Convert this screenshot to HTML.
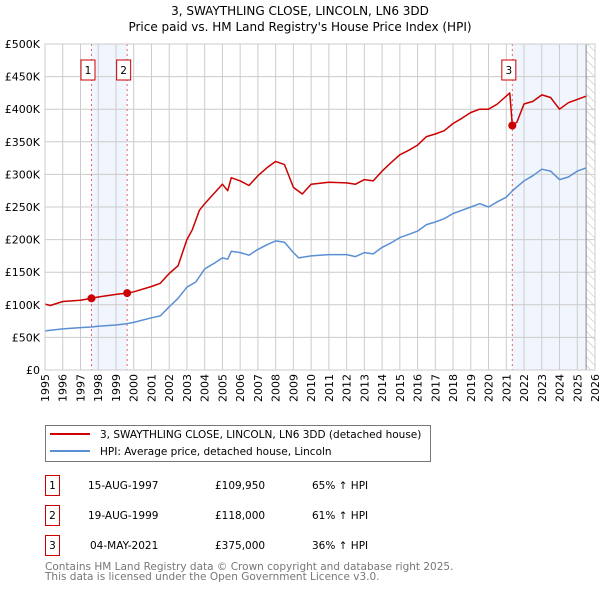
<!DOCTYPE html>
<html><head><meta charset="utf-8"><style>
body{margin:0;background:#fff;font-family:"DejaVu Sans","Liberation Sans",sans-serif;}
svg text{font-family:"DejaVu Sans","Liberation Sans",sans-serif;}
</style></head><body>
<svg id="c" width="600" height="590" xmlns="http://www.w3.org/2000/svg">
<defs><pattern id="hatch" width="6" height="6" patternUnits="userSpaceOnUse" patternTransform="rotate(-45)"><line x1="0" y1="0" x2="0" y2="6" stroke="#bbb" stroke-width="1"/></pattern></defs>
<text x="300" y="15" text-anchor="middle" font-size="12">3, SWAYTHLING CLOSE, LINCOLN, LN6 3DD</text>
<text x="300" y="31" text-anchor="middle" font-size="12">Price paid vs. HM Land Registry's House Price Index (HPI)</text>
<g id="plot"></g>
<g>
<rect x="45.5" y="425.5" width="385" height="36" fill="#fff" stroke="#777"/>
<line x1="50" y1="434" x2="90" y2="434" stroke="#cc0000" stroke-width="2"/>
<text x="100" y="438" font-size="10.5">3, SWAYTHLING CLOSE, LINCOLN, LN6 3DD (detached house)</text>
<line x1="50" y1="451" x2="90" y2="451" stroke="#5b8fd4" stroke-width="2"/>
<text x="100" y="455" font-size="10.5">HPI: Average price, detached house, Lincoln</text>
</g>
<g font-size="10.5">
<rect x="45.5" y="475.5" width="14" height="20" fill="#fff" stroke="#cc0000"/><text x="52.5" y="489" text-anchor="middle">1</text>
<text x="88" y="489">15-AUG-1997</text><text x="215" y="489">£109,950</text><text x="312" y="489">65% ↑ HPI</text>
<rect x="45.5" y="505.5" width="14" height="20" fill="#fff" stroke="#cc0000"/><text x="52.5" y="519" text-anchor="middle">2</text>
<text x="88" y="519">19-AUG-1999</text><text x="215" y="519">£118,000</text><text x="312" y="519">61% ↑ HPI</text>
<rect x="45.5" y="535.5" width="14" height="20" fill="#fff" stroke="#cc0000"/><text x="52.5" y="549" text-anchor="middle">3</text>
<text x="90" y="549">04-MAY-2021</text><text x="215" y="549">£375,000</text><text x="312" y="549">36% ↑ HPI</text>
</g>
<text x="45" y="570" font-size="10.5" fill="#777">Contains HM Land Registry data © Crown copyright and database right 2025.</text>
<text x="45" y="580" font-size="10.5" fill="#777">This data is licensed under the Open Government Licence v3.0.</text>
</svg>
<script>
const hpiYears=[1995,1996,1997,1997.6,1998,1999,1999.6,2000,2001,2001.5,2002,2002.5,2003,2003.5,2004,2004.5,2005,2005.3,2005.5,2006,2006.5,2007,2007.5,2008,2008.5,2009,2009.3,2010,2011,2012,2012.5,2013,2013.5,2014,2014.5,2015,2015.5,2016,2016.5,2017,2017.5,2018,2018.5,2019,2019.5,2020,2020.5,2021,2021.35,2022,2022.5,2023,2023.5,2024,2024.5,2025,2025.5];
const hpiValues=[60,63,65,66,67,69,71,73,80,83,97,110,127,135,155,163,172,170,182,180,176,185,192,198,196,180,172,175,177,177,174,180,178,188,195,203,208,213,223,227,232,240,245,250,255,250,258,265,275,290,298,308,305,292,296,305,310];
const propYears=[1995,1995.3,1996,1997,1997.62,1998,1999,1999.63,2000,2001,2001.5,2002,2002.5,2003,2003.3,2003.7,2004,2004.5,2005,2005.3,2005.5,2006,2006.5,2007,2007.5,2008,2008.5,2009,2009.5,2010,2011,2012,2012.5,2013,2013.5,2014,2014.5,2015,2015.5,2016,2016.5,2017,2017.5,2018,2018.5,2019,2019.5,2020,2020.5,2021.2,2021.34,2021.6,2022,2022.5,2023,2023.5,2024,2024.5,2025,2025.5];
const propValues=[101,99,105,107,110,112,116,118,120,128,133,148,160,200,215,245,255,270,285,275,295,290,283,298,310,320,315,280,270,285,288,287,285,292,290,305,318,330,337,345,358,362,367,378,386,395,400,400,408,425,375,380,408,412,422,418,400,410,415,420];
const saleYears=[1997.62,1999.63,2021.34];
const saleValues=[109950,118000,375000];
const saleLabels=["1","2","3"];
const yTicks=[0,50,100,150,200,250,300,350,400,450,500];
const yTickLabels=["£0","£50K","£100K","£150K","£200K","£250K","£300K","£350K","£400K","£450K","£500K"];
const xTicks=[1995,1996,1997,1998,1999,2000,2001,2002,2003,2004,2005,2006,2007,2008,2009,2010,2011,2012,2013,2014,2015,2016,2017,2018,2019,2020,2021,2022,2023,2024,2025,2026];

const L=45,R=595,T=44,B=370;
const xs=y=>L+(y-1995)/(2026-1995)*(R-L);
const ys=v=>B-v/500*(B-T);
const NS="http://www.w3.org/2000/svg";
const g=document.getElementById('plot');
function mk(tag,attrs,parent){const e=document.createElementNS(NS,tag);for(const k in attrs)e.setAttribute(k,attrs[k]);(parent||g).appendChild(e);return e;}
let b1=mk('rect',{x:xs(saleYears[0]),y:T,width:xs(saleYears[1])-xs(saleYears[0]),height:B-T,fill:'#eef3fc',opacity:0.8});


let b2=mk('rect',{x:xs(saleYears[2]),y:T,width:xs(2025.5)-xs(saleYears[2]),height:B-T,fill:'#eef3fc',opacity:0.8});


let h=mk('rect',{x:xs(2025.5),y:T,width:R-xs(2025.5),height:B-T,fill:'url(#hatch)'});


yTicks.forEach((t,i)=>{
  let l=mk('line',{x1:L,x2:R,y1:ys(t),y2:ys(t),stroke:'#ccc','stroke-width':1});
  
  
  let tx=mk('text',{x:L-5,y:ys(t)+4,'text-anchor':'end','font-size':11});
  tx.textContent=yTickLabels[i];
  
  
});
xTicks.forEach(t=>{
  let l=mk('line',{x1:xs(t),x2:xs(t),y1:T,y2:B,stroke:'#ccc','stroke-width':1});
  
  
  let px=xs(t)+4, py=B+4;
  let tx=mk('text',{x:px,y:py,'text-anchor':'end','font-size':11,transform:'rotate(-90 '+px+' '+py+')'});
  tx.textContent=t;
  
  
});
let ax=mk('line',{x1:xs(2025.5),x2:xs(2025.5),y1:T,y2:B,stroke:'#888','stroke-width':1});


saleYears.forEach((sy,i)=>{
  let l=mk('line',{x1:xs(sy),x2:xs(sy),y1:T,y2:B,stroke:'#e06666','stroke-width':1,'stroke-dasharray':'2,3'});
  
  
});
function path(xa,va,color,name){
  let d=xa.map((x,i)=>(i?'L':'M')+xs(x).toFixed(1)+','+ys(va[i]).toFixed(1)).join('');
  let p=mk('path',{d:d,fill:'none',stroke:color,'stroke-width':1.5,'stroke-linejoin':'round'});
  
  
}
path(hpiYears,hpiValues,'#5b8fd4','hpi-line');
path(propYears,propValues,'#cc0000','property-price-line');
saleYears.forEach((sy,i)=>{
  let c=mk('circle',{cx:xs(sy),cy:ys(saleValues[i]/1000),r:4,fill:'#cc0000'});
  
  
  let bx=xs(sy)-10.5, by=T+16;
  let r=mk('rect',{x:bx,y:by,width:14,height:20,fill:'#fff',stroke:'#cc0000'});
  
  
  let t=mk('text',{x:bx+7,y:by+14,'text-anchor':'middle','font-size':10.5});
  t.textContent=saleLabels[i];
  
  
});
let fr=mk('rect',{x:L,y:T,width:R-L,height:B-T,fill:'none',stroke:'#ccc'});


</script>
</body></html>
